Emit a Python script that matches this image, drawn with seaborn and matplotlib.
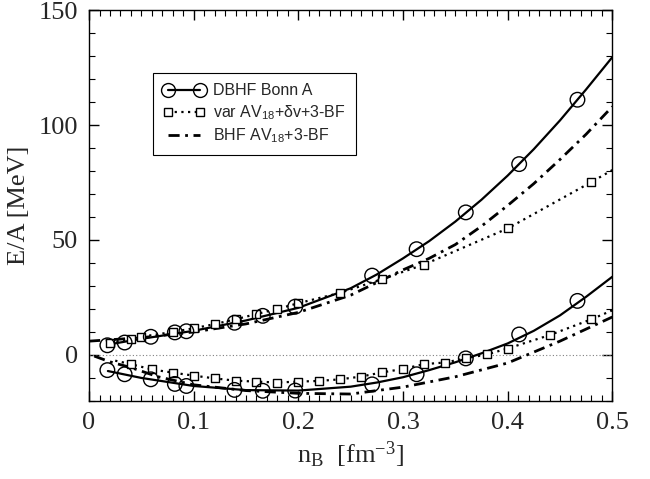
import numpy as np
import pandas as pd
import seaborn as sns
import matplotlib.pyplot as plt
from matplotlib.lines import Line2D
from matplotlib.ticker import MultipleLocator

# -------------------------
# Data (n_B in fm^-3, E/A in MeV)
# -------------------------

# DBHF Bonn A, neutron matter (upper) and nuclear matter (lower)
dbhf_n = [0.0175, 0.034, 0.059, 0.082, 0.093, 0.139, 0.166, 0.197, 0.2705, 0.313, 0.36, 0.411, 0.4667]
dbhf_upper = [4.2, 5.4, 7.9, 9.8, 10.3, 14.0, 17.0, 21.0, 34.5, 46.0, 62.0, 83.0, 111.0]
dbhf_lower = [-6.6, -8.4, -10.6, -12.6, -13.5, -15.2, -15.6, -15.5, -12.8, -8.4, -1.5, 8.9, 23.5]

# smooth DBHF curves
dbhf_line_n = [0.018, 0.05, 0.1, 0.15, 0.2, 0.25, 0.275, 0.3, 0.325, 0.35, 0.375, 0.4, 0.425,
               0.45, 0.475, 0.5]
dbhf_line_upper = [4.5, 7.0, 10.5, 15.0, 20.5, 29.0, 35.0, 42.0, 49.5, 58.0, 67.5, 78.0, 89.5,
                   102.0, 115.5, 129.5]
dbhf_line_lower = [-7.0, -10.0, -13.5, -15.3, -15.5, -13.8, -12.0, -9.7, -6.6, -3.2, 0.7, 5.0, 10.5,
                   17.2, 25.3, 34.0]

# var AV18 + dv + 3-BF
var_up_n = [0.02, 0.04, 0.05, 0.08, 0.10, 0.12, 0.14, 0.16, 0.18, 0.20, 0.24, 0.28, 0.32, 0.40, 0.48]
var_upper = [5.0, 6.9, 7.9, 10.0, 11.6, 13.4, 15.5, 17.8, 20.0, 22.5, 27.0, 33.0, 39.3, 55.0, 75.2]
var_up_line_n = var_up_n + [0.5]
var_up_line = var_upper + [80.4]

var_lo_n = [0.04, 0.06, 0.08, 0.10, 0.12, 0.14, 0.16, 0.18, 0.20, 0.22, 0.24, 0.26, 0.28,
            0.30, 0.32, 0.34, 0.36, 0.38, 0.40, 0.44, 0.48]
var_lower = [-4.0, -6.3, -7.7, -9.0, -10.2, -11.2, -11.6, -12.0, -11.6, -11.3, -10.6, -9.4, -7.6,
             -6.1, -4.0, -3.3, -1.5, 0.2, 2.8, 8.6, 15.5]
var_lo_line_n = [0.025] + var_lo_n + [0.5]
var_lo_line = [-2.5] + var_lower + [19.4]

# BHF AV18 + 3-BF
bhf_up_n = [0.0, 0.05, 0.1, 0.15, 0.2, 0.25, 0.3, 0.325, 0.35, 0.375, 0.4, 0.425, 0.45, 0.475, 0.5]
bhf_upper = [6.0, 7.5, 10.0, 13.5, 18.5, 26.0, 37.0, 42.0, 48.0, 56.0, 65.0, 74.5, 85.0, 96.0, 108.0]
bhf_lo_n = [0.005, 0.02, 0.04, 0.066, 0.1, 0.15, 0.2, 0.25, 0.3, 0.35, 0.4, 0.45, 0.5]
bhf_lower = [-0.5, -3.0, -5.5, -9.5, -13.0, -15.5, -16.7, -17.0, -14.0, -9.5, -3.5, 6.0, 16.5]

# -------------------------
# Style
# -------------------------
sns.set_theme(style="ticks")
plt.rcParams['font.family'] = ['Liberation Serif', 'DejaVu Serif']
plt.rcParams['mathtext.fontset'] = 'custom'
plt.rcParams['mathtext.rm'] = 'Liberation Serif'
plt.rcParams['mathtext.it'] = 'Liberation Serif'
plt.rcParams['mathtext.sf'] = 'Liberation Sans'

fig = plt.figure(figsize=(6.5, 4.79), dpi=100)
ax = fig.add_axes([0.137, 0.163, 0.805, 0.816])

dashdot = (0, (4, 2, 1, 2))
dotted = (0, (1, 2))

# zero reference line
ax.axhline(0, color='grey', lw=0.8, linestyle=(0, (1, 2)))

# curves
sns.lineplot(x=dbhf_line_n, y=dbhf_line_upper, ax=ax, color='black', lw=1.6, sort=False)
sns.lineplot(x=dbhf_line_n, y=dbhf_line_lower, ax=ax, color='black', lw=1.6, sort=False)
sns.lineplot(x=var_up_line_n, y=var_up_line, ax=ax, color='black', lw=1.6, linestyle=dotted, sort=False)
sns.lineplot(x=var_lo_line_n, y=var_lo_line, ax=ax, color='black', lw=1.6, linestyle=dotted, sort=False)
sns.lineplot(x=bhf_up_n, y=bhf_upper, ax=ax, color='black', lw=2.0, linestyle=dashdot, sort=False)
sns.lineplot(x=bhf_lo_n, y=bhf_lower, ax=ax, color='black', lw=2.0, linestyle=dashdot, sort=False)

# markers
for yy in (dbhf_upper, dbhf_lower):
    sns.scatterplot(x=dbhf_n, y=yy, ax=ax, marker='o', s=110, facecolor='none',
                    edgecolor='black', linewidth=1.0, zorder=5)
sns.scatterplot(x=var_up_n, y=var_upper, ax=ax, marker='s', s=40, facecolor='white',
                edgecolor='black', linewidth=1.0, zorder=4)
sns.scatterplot(x=var_lo_n, y=var_lower, ax=ax, marker='s', s=40, facecolor='white',
                edgecolor='black', linewidth=1.0, zorder=4)

# axes
ax.set_xlim(0, 0.5)
ax.set_ylim(-20, 150)
ax.xaxis.set_minor_locator(MultipleLocator(0.01))
ax.yaxis.set_major_locator(MultipleLocator(50))
ax.yaxis.set_minor_locator(MultipleLocator(10))
ax.set_xticks([0, 0.1, 0.2, 0.3, 0.4, 0.5])
ax.set_xticklabels(['0', '0.1', '0.2', '0.3', '0.4', '0.5'])
ax.tick_params(which='both', direction='in', top=True, right=True, labelsize=19, color='black')
ax.tick_params(which='major', length=7, width=1.0, pad=8)
ax.tick_params(which='minor', length=4, width=0.8)
for sp in ax.spines.values():
    sp.set_color('black')
    sp.set_linewidth(1.0)

ax.set_xlabel(r'n$_{\rm B}$  [fm$^{-3}$]', fontsize=19, labelpad=4)
ax.set_ylabel('E/A [MeV]', fontsize=19, labelpad=6)

# legend
handles = [
    Line2D([], [], color='black', lw=1.6, marker='o', ms=10, mfc='none', mec='black', mew=1.0),
    Line2D([], [], color='black', lw=1.6, linestyle=dotted, marker='s', ms=6, mfc='white', mec='black', mew=1.0),
    Line2D([], [], color='black', lw=2.0, linestyle=dashdot),
]
labels = ['DBHF Bonn A', r'var AV$_{\mathsf{18}}$+δv+3-BF', r'BHF AV$_{\mathsf{18}}$+3-BF']
leg = ax.legend(handles, labels, loc='upper left', bbox_to_anchor=(0.1224, 0.839), numpoints=2,
                borderaxespad=0, handlelength=2.6, handletextpad=0.5, borderpad=0.65, labelspacing=0.3,
                frameon=True, fancybox=False, edgecolor='black', framealpha=1,
                prop={'family': ['Liberation Sans', 'DejaVu Sans'], 'size': 11.5})
leg.get_frame().set_linewidth(0.8)

fig.savefig('out.png', dpi=100)
